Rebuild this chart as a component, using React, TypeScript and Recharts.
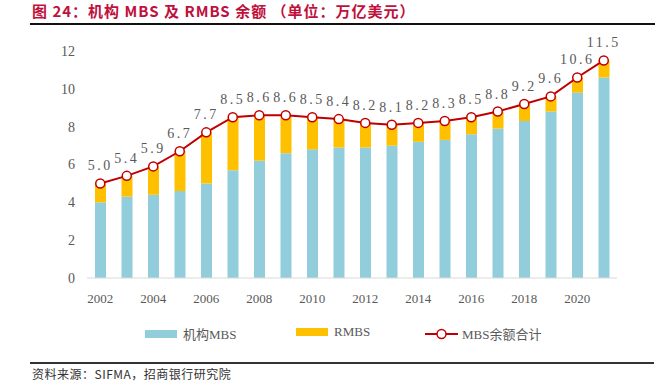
import React from "react";
import { Bar, ComposedChart, LabelList, Line, XAxis, YAxis } from "recharts";

const years = [
  "2002", "2003", "2004", "2005", "2006", "2007", "2008", "2009", "2010", "2011",
  "2012", "2013", "2014", "2015", "2016", "2017", "2018", "2019", "2020", "2021",
];
const agencyMbs = [4.0, 4.3, 4.4, 4.6, 5.0, 5.7, 6.2, 6.6, 6.8, 6.9, 6.9, 7.0, 7.2, 7.3, 7.6, 7.9, 8.3, 8.8, 9.8, 10.6];
const rmbs = [1.0, 1.1, 1.5, 2.1, 2.7, 2.8, 2.4, 2.0, 1.7, 1.5, 1.3, 1.1, 1.0, 1.0, 0.9, 0.9, 0.9, 0.8, 0.8, 0.9];
const totalMbs = [5.0, 5.4, 5.9, 6.7, 7.7, 8.5, 8.6, 8.6, 8.5, 8.4, 8.2, 8.1, 8.2, 8.3, 8.5, 8.8, 9.2, 9.6, 10.6, 11.5];
const yTicks = [0, 2, 4, 6, 8, 10, 12];

const data = years.map((year, i) => ({
  year,
  agency: agencyMbs[i],
  rmbs: rmbs[i],
  total: totalMbs[i],
}));

const BLUE = "#92CDDC";
const ORANGE = "#FFC000";
const RED = "#C00000";
const GRAY = "#595959";
const serif = "'Liberation Serif', 'DejaVu Serif', serif";
const cjk = "'Noto Sans CJK SC', sans-serif";

function ChartLegend() {
  const item = { display: "flex", alignItems: "center", position: "absolute" as const, top: 324 };
  const label = { fontFamily: "'Liberation Serif', 'Noto Sans CJK SC', serif", fontSize: 13, color: GRAY, marginLeft: 6 };
  return (
    <>
      <div style={{ ...item, left: 145 }}>
        <span style={{ width: 32, height: 8, background: BLUE, display: "inline-block" }} />
        <span style={label}>机构MBS</span>
      </div>
      <div style={{ ...item, left: 296 }}>
        <span style={{ width: 32, height: 8, background: ORANGE, display: "inline-block" }} />
        <span style={label}>RMBS</span>
      </div>
      <div style={{ ...item, left: 425 }}>
        <svg width={33} height={12}>
          <line x1={0} y1={6} x2={33} y2={6} stroke={RED} strokeWidth={2} />
          <circle cx={16.5} cy={6} r={4.5} fill="#fff" stroke={RED} strokeWidth={1.5} />
        </svg>
        <span style={{ ...label, marginLeft: 4 }}>MBS余额合计</span>
      </div>
    </>
  );
}

export default function App() {
  return (
    <div style={{ position: "absolute", left: 0, top: 0, width: 665, height: 381, overflow: "hidden", background: "#fff" }}>
      <div style={{ position: "absolute", left: 32, top: 0, fontFamily: cjk, fontWeight: 700, fontSize: 15, letterSpacing: 1, color: "#C0103C", whiteSpace: "nowrap" }}>
        图 24：机构 MBS 及 RMBS 余额 （单位：万亿美元）
      </div>
      <div style={{ position: "absolute", left: 30, top: 23, width: 625, height: 2, background: "#111" }} />

      <ComposedChart
        width={665}
        height={381}
        data={data}
        margin={{ top: 51, right: 48, bottom: 73, left: 0 }}
        barCategoryGap={0}
      >
        <XAxis
          dataKey="year"
          interval={1}
          height={30}
          tickLine={false}
          axisLine={{ stroke: "#D9D9D9" }}
          tick={{ fill: GRAY, fontSize: 13, fontFamily: serif }}
          tickMargin={10}
        />
        <YAxis
          width={87}
          domain={[0, 12]}
          ticks={yTicks}
          axisLine={false}
          tickLine={false}
          tickMargin={6}
          tick={{ fill: GRAY, fontSize: 14, fontFamily: serif }}
        />
        <Bar dataKey="agency" stackId="a" fill={BLUE} barSize={11} isAnimationActive={false} />
        <Bar dataKey="rmbs" stackId="a" fill={ORANGE} barSize={11} isAnimationActive={false} />
        <Line
          dataKey="total"
          stroke={RED}
          strokeWidth={2}
          dot={{ r: 4.5, fill: "#fff", stroke: RED, strokeWidth: 1.5 }}
          isAnimationActive={false}
        >
          <LabelList
            dataKey="total"
            position="top"
            offset={13}
            formatter={(v: number) => v.toFixed(1)}
            style={{ fill: GRAY, fontSize: 14, fontFamily: serif, letterSpacing: 2.5 }}
          />
        </Line>
      </ComposedChart>

      <ChartLegend />

      <div style={{ position: "absolute", left: 30, top: 362, width: 624, height: 2, background: "#333" }} />
      <div style={{ position: "absolute", left: 32, top: 367, lineHeight: "13px", fontFamily: cjk, fontSize: 12, letterSpacing: 0.5, color: "#333", whiteSpace: "nowrap" }}>
        资料来源：SIFMA，招商银行研究院
      </div>
    </div>
  );
}
